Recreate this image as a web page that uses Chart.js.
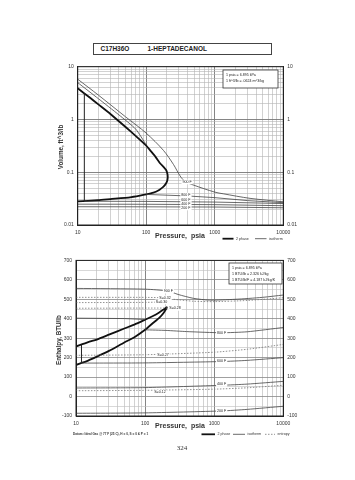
<!DOCTYPE html>
<html><head><meta charset="utf-8">
<script src="https://cdn.jsdelivr.net/npm/chart.js@4/dist/chart.umd.min.js"></script>
<style>
html,body{margin:0;padding:0;background:#fff;width:355px;height:480px;overflow:hidden;font-family:"Liberation Sans",Arial,sans-serif;}
#title{position:absolute;left:92.5px;top:43px;width:177px;height:10px;border:1px solid #444;font-size:6.5px;font-weight:bold;color:#222;}
#title span{position:absolute;top:1.2px;}
#c1{position:absolute;left:0;top:0;width:355px;height:245px;}
#c2{position:absolute;left:0;top:245px;width:355px;height:235px;}
#page{position:absolute;left:170px;top:444px;width:24px;text-align:center;font-family:"Liberation Serif",serif;font-size:7px;color:#333;}
</style></head>
<body>
<div id="title"><span style="left:7px">C17H36O</span><span style="left:54px">1-HEPTADECANOL</span></div>
<canvas id="c1" width="355" height="245"></canvas>
<canvas id="c2" width="355" height="235"></canvas>
<div id="page">324</div>
<script>
// ---------- tick labels ----------
const pressureTickLabels = [10, 100, 1000, 10000];
const volumeTickLabels = [0.01, 0.1, 1, 10];
const enthalpyTickLabels = [-100, 0, 100, 200, 300, 400, 500, 600, 700];

// ---------- top chart: volume (ft^3/lb) vs pressure (psia) ----------
const volDomeP = [10, 15, 20, 30, 50, 70, 100, 114, 135, 159, 180, 195, 203, 206, 203, 195, 180, 168, 150, 127, 100, 81, 58, 30, 20, 10];
const volDomeV = [3.9, 2.6, 1.93, 1.27, 0.72, 0.49, 0.32, 0.26, 0.2, 0.148, 0.125, 0.11, 0.095, 0.082, 0.07, 0.062, 0.054, 0.05, 0.045, 0.041, 0.038, 0.036, 0.0335, 0.031, 0.0295, 0.028];
const volTieP = [12.5, 12.5];
const volTieV = [0.0282, 3.15];
const vol900P = [10, 20, 50, 100, 178, 250, 312, 368, 482, 1000, 1334, 3270, 10000];
const vol900V = [5.8, 2.9, 1.12, 0.55, 0.26, 0.14, 0.085, 0.067, 0.0575, 0.042, 0.039, 0.032, 0.0275];
const vol800VapP = [10, 20, 40, 70, 100];
const vol800VapV = [5.0, 2.48, 1.22, 0.66, 0.33];
const vol800LiqP = [100, 400, 1000, 3000, 10000];
const vol800LiqV = [0.038, 0.0355, 0.033, 0.029, 0.0265];
const vol600P = [12.5, 100, 1000, 10000];
const vol600V = [0.0282, 0.028, 0.0272, 0.0255];
const vol400P = [10, 100, 1000, 10000];
const vol400V = [0.0248, 0.0247, 0.0243, 0.0232];
const vol200P = [10, 100, 1000, 10000];
const vol200V = [0.0222, 0.0221, 0.0219, 0.0212];
const volTagText = ["900 F", "800 F", "600 F", "400 F", "200 F"];
const volTagP = [395, 380, 380, 380, 380];
const volTagV = [0.0654, 0.037, 0.0304, 0.0253, 0.021];

// ---------- bottom chart: enthalpy (BTU/lb) vs pressure (psia) ----------
const enthDomeP = [10, 15, 20, 30, 50, 70, 100, 130, 160, 185, 206, 185, 160, 130, 100, 70, 50, 30, 20, 15, 10];
const enthDomeH = [257, 280, 293, 318, 350, 370, 395, 414, 432, 447, 459, 430, 405, 378, 343, 305, 278, 235, 205, 185, 163];
const enthTieP = [12, 12];
const enthTieH = [172, 267];
const enth900P = [10, 100, 217, 300, 500, 850, 2000, 5000, 10000];
const enth900H = [556, 552, 542, 525, 505, 496, 500, 510, 522];
const enth800VapP = [10, 50, 100];
const enth800VapH = [403, 401, 396];
const enth800LiqP = [100, 200, 400, 1280, 3000, 10000];
const enth800LiqH = [343, 340, 334, 328, 333, 355];
const enth600P = [12, 100, 1280, 3000, 10000];
const enth600H = [172, 173, 180, 186, 200];
const enth400P = [10, 100, 1280, 3000, 10000];
const enth400H = [44, 46, 58, 64, 78];
const enth200P = [10, 100, 1280, 3000, 10000];
const enth200H = [-86, -84, -74, -66, -50];
const entS32P = [10, 100, 194];
const entS32H = [510, 510, 508];
const entS32bP = [260, 500, 1000, 3000, 10000];
const entS32bH = [500, 490, 488, 494, 508];
const entS30P = [10, 100, 173];
const entS30H = [483, 484, 486];
const entS28P = [10, 100, 250];
const entS28H = [454, 455, 455];
const entS27P = [10, 100, 1000, 3000, 10000];
const entS27H = [212, 215, 228, 243, 268];
const entS12P = [10, 100, 1000, 3000, 10000];
const entS12H = [30, 32, 38, 45, 58];
const enthTagText = ["900 F", "S=0.32", "S=0.30", "S=0.28", "S=0.27", "S=0.12", "800 F", "600 F", "400 F", "200 F"];
const enthTagP = [217, 194, 173, 271, 182, 164, 1282, 1282, 1282, 1282];
const enthTagH = [542, 508, 487, 453, 216, 22, 328, 182, 62, -74];

// ---------- helpers ----------
const FONT = '"Liberation Sans", Arial, sans-serif';
function pts(xs, ys) { return xs.map((x, i) => ({ x: x, y: ys[i] })); }
function decadeGrid(lo, hi) {
  const out = [];
  for (let e = Math.round(Math.log10(lo)); e < Math.round(Math.log10(hi)); e++) {
    for (let k = 1; k < 10; k++) out.push(Number((k * Math.pow(10, e)).toPrecision(6)));
  }
  out.push(hi);
  return out;
}
function isPow10(v) { const l = Math.log10(v); return Math.abs(l - Math.round(l)) < 1e-9; }
const THICK = { borderColor: '#111', borderWidth: 1.8 };
const ISO = { borderColor: '#444', borderWidth: 0.8 };
const ENT = { borderColor: '#777', borderWidth: 0.8, borderDash: [1.5, 1.5] };
function ds(xs, ys, st, tension) {
  return Object.assign({ data: pts(xs, ys), showLine: true, pointRadius: 0, tension: tension || 0, fill: false }, st);
}
function txt(ctx, s, x, y, size, opt) {
  opt = opt || {};
  ctx.font = (opt.bold ? 'bold ' : '') + size + 'px ' + FONT;
  ctx.textAlign = opt.align || 'left';
  ctx.textBaseline = 'middle';
  ctx.fillStyle = opt.color || '#222';
  ctx.fillText(s, x, y);
}
function vtxt(ctx, s, x, y, size) {
  ctx.save(); ctx.translate(x, y); ctx.rotate(-Math.PI / 2);
  txt(ctx, s, 0, 0, size, { align: 'center', bold: true, color: '#333' });
  ctx.restore();
}
function tag(ctx, s, x, y) {
  ctx.font = '3.6px ' + FONT;
  const w = ctx.measureText(s).width;
  ctx.fillStyle = '#fff';
  ctx.fillRect(x - w / 2 - 1, y - 2.3, w + 2, 4.6);
  txt(ctx, s, x, y, 3.6, { align: 'center', color: '#222' });
}
function legendItem(ctx, x1, x2, y, st, label) {
  ctx.save();
  ctx.strokeStyle = st.borderColor; ctx.lineWidth = st.borderWidth;
  ctx.setLineDash(st.borderDash || []);
  ctx.beginPath(); ctx.moveTo(x1, y); ctx.lineTo(x2, y); ctx.stroke();
  ctx.restore();
  txt(ctx, label, x2 + 2.5, y, 3.6, { color: '#333' });
}
function unitBox(ctx, x, y, w, h, lines) {
  ctx.fillStyle = '#fff'; ctx.fillRect(x, y, w, h);
  ctx.strokeStyle = '#333'; ctx.lineWidth = 0.8; ctx.strokeRect(x, y, w, h);
  lines.forEach((l, i) => txt(ctx, l, x + 3, y + 5 + i * 6, 3.6, { color: '#222' }));
}
function xAxis(grid, labels, h) {
  return {
    type: 'logarithmic', min: 10, max: 10000,
    afterBuildTicks: s => { s.ticks = grid.map(v => ({ value: v })); },
    afterFit: s => { s.height = h; },
    ticks: { autoSkip: false, maxRotation: 0, padding: 4.5, font: { size: 5, family: FONT }, color: '#333',
      callback: v => labels.some(l => Math.abs(l - v) < 1e-9) ? String(v) : '' },
    grid: { drawTicks: false, color: c => (c.tick && isPow10(c.tick.value)) ? '#777' : '#b4b4b4',
      lineWidth: c => (c.tick && isPow10(c.tick.value)) ? 0.9 : 0.6 },
    border: { color: '#222', width: 1 }
  };
}
function frame() {
  return { id: 'frame', afterDatasetsDraw(chart) {
    const a = chart.chartArea, ctx = chart.ctx;
    ctx.save(); ctx.strokeStyle = '#222'; ctx.lineWidth = 1;
    ctx.strokeRect(a.left, a.top, a.right - a.left, a.bottom - a.top); ctx.restore();
  } };
}

// ---------- top chart ----------
const pGrid = decadeGrid(10, 10000);
const vGrid = decadeGrid(0.01, 10);
function volAxis(pos, w, onChart) {
  return {
    type: 'logarithmic', position: pos, min: 0.01, max: 10,
    afterBuildTicks: s => { s.ticks = vGrid.map(v => ({ value: v })); },
    afterFit: s => { s.width = w; },
    ticks: { autoSkip: false, padding: 4, font: { size: 5, family: FONT }, color: '#333',
      callback: v => volumeTickLabels.some(l => Math.abs(l - v) < 1e-12) ? String(v) : '' },
    grid: { drawTicks: false, drawOnChartArea: onChart,
      color: c => (c.tick && isPow10(c.tick.value)) ? '#777' : '#b4b4b4',
      lineWidth: c => (c.tick && isPow10(c.tick.value)) ? 0.9 : 0.6 },
    border: { color: '#222', width: 1 }
  };
}
new Chart(document.getElementById('c1'), {
  type: 'scatter',
  data: { datasets: [
    ds(vol200P, vol200V, ISO), ds(vol400P, vol400V, ISO), ds(vol600P, vol600V, ISO),
    ds(vol800LiqP, vol800LiqV, ISO), ds(vol800VapP, vol800VapV, ISO, 0.2),
    ds(vol900P, vol900V, ISO, 0.3),
    ds(volTieP, volTieV, { borderColor: '#222', borderWidth: 1 }),
    ds(volDomeP, volDomeV, THICK, 0.15)
  ] },
  options: {
    responsive: false, animation: false, events: [],
    layout: { padding: { top: 66.7, left: 0, right: 0, bottom: 0 } },
    plugins: { legend: { display: false }, tooltip: { enabled: false } },
    scales: { x: xAxis(pGrid, pressureTickLabels, 20), y: volAxis('left', 77.7, true), y2: volAxis('right', 71.7, false) }
  },
  plugins: [frame(), { id: 'deco1', afterDraw(chart) {
    const ctx = chart.ctx, X = chart.scales.x, Y = chart.scales.y;
    volTagText.forEach((t, i) => tag(ctx, t, X.getPixelForValue(volTagP[i]), Y.getPixelForValue(volTagV[i])));
    unitBox(ctx, 223, 70, 55, 18, ['1 psia = 6.895 kPa', '1 ft^3/lb = .0624 m^3/kg']);
    vtxt(ctx, 'Volume, ft^3/lb', 61.7, 147, 6.3);
    txt(ctx, 'Pressure,  psia', 180, 236, 7, { align: 'center', bold: true, color: '#333' });
    legendItem(ctx, 222.5, 233.5, 238.7, THICK, '2 phase');
    legendItem(ctx, 255, 266.5, 238.7, ISO, 'isotherm');
  } }]
});

// ---------- bottom chart ----------
const hGrid = [];
for (let h = -100; h <= 700; h += 50) hGrid.push(h);
function enthAxis(pos, w, onChart) {
  return {
    type: 'linear', position: pos, min: -100, max: 700,
    afterBuildTicks: s => { s.ticks = hGrid.map(v => ({ value: v })); },
    afterFit: s => { s.width = w; },
    ticks: { autoSkip: false, padding: 4, font: { size: 5, family: FONT }, color: '#333',
      callback: v => enthalpyTickLabels.includes(v) ? String(v) : '' },
    grid: { drawTicks: false, drawOnChartArea: onChart,
      color: c => (c.tick && c.tick.value % 100 === 0) ? '#888' : '#bdbdbd',
      lineWidth: c => (c.tick && c.tick.value % 100 === 0) ? 0.8 : 0.6 },
    border: { color: '#222', width: 1 }
  };
}
new Chart(document.getElementById('c2'), {
  type: 'scatter',
  data: { datasets: [
    ds(entS12P, entS12H, ENT, 0.2), ds(entS27P, entS27H, ENT, 0.2), ds(entS28P, entS28H, ENT),
    ds(entS30P, entS30H, ENT), ds(entS32P, entS32H, ENT), ds(entS32bP, entS32bH, ENT, 0.2),
    ds(enth200P, enth200H, ISO, 0.2), ds(enth400P, enth400H, ISO, 0.2), ds(enth600P, enth600H, ISO, 0.2),
    ds(enth800LiqP, enth800LiqH, ISO, 0.2), ds(enth800VapP, enth800VapH, ISO),
    ds(enth900P, enth900H, ISO, 0.25),
    ds(enthTieP, enthTieH, { borderColor: '#222', borderWidth: 1 }),
    ds(enthDomeP, enthDomeH, THICK, 0.2)
  ] },
  options: {
    responsive: false, animation: false, events: [],
    layout: { padding: { top: 15.4, left: 0, right: 0, bottom: 0 } },
    plugins: { legend: { display: false }, tooltip: { enabled: false } },
    scales: { x: xAxis(pGrid, pressureTickLabels, 64), y: enthAxis('left', 76, true), y2: enthAxis('right', 71.7, false) }
  },
  plugins: [frame(), { id: 'deco2', afterDraw(chart) {
    const ctx = chart.ctx, X = chart.scales.x, Y = chart.scales.y;
    enthTagText.forEach((t, i) => tag(ctx, t, X.getPixelForValue(enthTagP[i]), Y.getPixelForValue(enthTagH[i])));
    unitBox(ctx, 229, 18, 53, 21, ['1 psia = 6.895 kPa', '1 BTU/lb = 2.326 kJ/kg', '1 BTU/lb/F = 4.187 kJ/kg/K']);
    vtxt(ctx, 'Enthalpy, BTU/lb', 59.3, 95, 6.3);
    txt(ctx, 'Pressure,  psia', 180, 181, 7, { align: 'center', bold: true, color: '#333' });
    txt(ctx, 'Datum: Ideal Gas @ 77 F (25 C), H = 0, S = 0 & P = 1', 73, 189.3, 3.1, { bold: true, color: '#333' });
    legendItem(ctx, 201.5, 215, 189.3, THICK, '2 phase');
    legendItem(ctx, 233, 245, 189.3, ISO, 'isotherm');
    legendItem(ctx, 265, 275, 189.3, ENT, 'entropy');
  } }]
});
</script>
</body></html>
